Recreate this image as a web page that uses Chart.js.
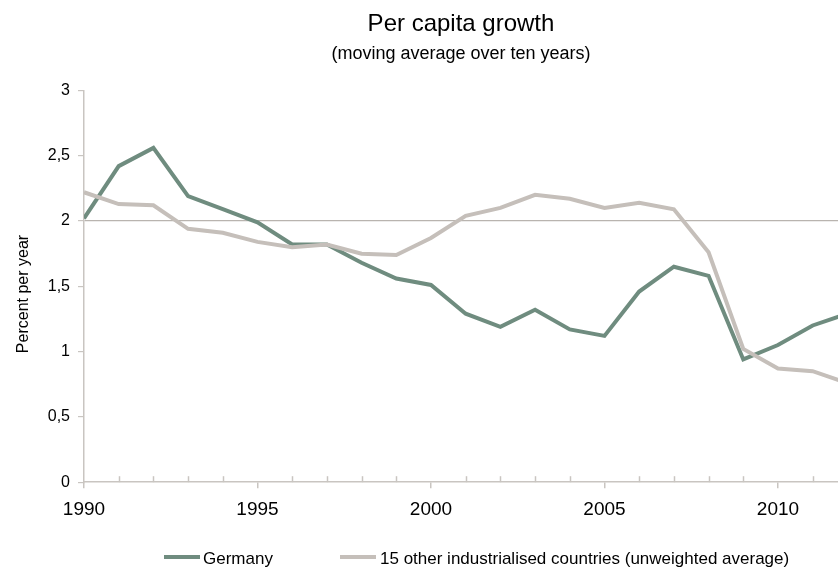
<!DOCTYPE html>
<html>
<head>
<meta charset="utf-8">
<script src="https://cdn.jsdelivr.net/npm/chart.js@4.4.1/dist/chart.umd.min.js"></script>
<style>
  html, body { margin: 0; padding: 0; background: #fff; }
  #wrap { position: relative; width: 838px; height: 567px; overflow: hidden; }
  #legend { position: absolute; left: 0; top: 549px; width: 838px; height: 20px;
            font: 17px "Liberation Sans", Arial, sans-serif; color: #000; }
  .item { position: absolute; top: 0; line-height: 20px; white-space: nowrap; }
  .swatch { display: inline-block; width: 36px; height: 4px; vertical-align: middle;
            position: relative; top: -3px; }
</style>
</head>
<body>
<div id="wrap">
  <canvas id="growth" width="838" height="567"></canvas>
  <div id="legend"></div>
</div>
<script>
const years = [1990, 1991, 1992, 1993, 1994, 1995, 1996, 1997, 1998, 1999, 2000, 2001,
               2002, 2003, 2004, 2005, 2006, 2007, 2008, 2009, 2010, 2011, 2012];
const germany = [2.02, 2.42, 2.56, 2.19, 2.09, 1.99, 1.82, 1.82, 1.68, 1.56, 1.51, 1.29,
                 1.19, 1.32, 1.17, 1.12, 1.46, 1.65, 1.58, 0.94, 1.05, 1.20, 1.29];
const others = [2.22, 2.13, 2.12, 1.94, 1.91, 1.84, 1.80, 1.82, 1.75, 1.74, 1.87, 2.04,
                2.10, 2.20, 2.17, 2.10, 2.14, 2.09, 1.76, 1.02, 0.87, 0.85, 0.76];
const seriesNames = ['Germany', '15 other industrialised countries (unweighted average)'];
const yTicks = [0, 0.5, 1, 1.5, 2, 2.5, 3];

const FONT = '"Liberation Sans", Arial, sans-serif';
const axisColor = '#c9c5c1';
const colors = ['#6f8c7f', '#c5bfba'];

// small upward ticks for the in-between years
const minorTicks = {
  id: 'minorTicks',
  beforeDatasetsDraw(chart) {
    const x = chart.scales.x, y = chart.scales.y;
    const ctx = chart.ctx;
    const base = y.getPixelForValue(0);
    ctx.save();
    ctx.strokeStyle = axisColor;
    ctx.lineWidth = 1.5;
    years.forEach(yr => {
      if (yr % 5 === 0 || yr > x.max) return;
      const px = Math.round(x.getPixelForValue(yr)) + 0.5;
      ctx.beginPath();
      ctx.moveTo(px, base);
      ctx.lineTo(px, base - 6);
      ctx.stroke();
    });
    ctx.restore();
  }
};

// y axis title, sitting a little below the middle as in the original
const yTitle = {
  id: 'yTitle',
  afterDraw(chart) {
    const ctx = chart.ctx;
    ctx.save();
    ctx.translate(24, 294);
    ctx.rotate(-Math.PI / 2);
    ctx.font = '16px ' + FONT;
    ctx.fillStyle = '#000';
    ctx.textAlign = 'center';
    ctx.textBaseline = 'middle';
    ctx.fillText('Percent per year', 0, 0);
    ctx.restore();
  }
};

new Chart(document.getElementById('growth'), {
  type: 'line',
  data: {
    datasets: [
      { label: seriesNames[0], data: years.map((yr, i) => ({ x: yr, y: germany[i] })),
        borderColor: colors[0], backgroundColor: colors[0], order: 1 },
      { label: seriesNames[1], data: years.map((yr, i) => ({ x: yr, y: others[i] })),
        borderColor: colors[1], backgroundColor: colors[1], order: 0 }
    ]
  },
  options: {
    responsive: false,
    animation: false,
    layout: { padding: { left: 0, right: 0, top: 0, bottom: 36 } },
    elements: {
      line: { borderWidth: 4, tension: 0 },
      point: { radius: 0 }
    },
    plugins: {
      legend: { display: false },
      tooltip: { enabled: false },
      title: {
        display: true, fullSize: false, text: 'Per capita growth', color: '#000',
        font: { family: FONT, size: 24, weight: 'normal' },
        padding: { top: 10, bottom: 0 }
      },
      subtitle: {
        display: true, fullSize: false, text: '(moving average over ten years)', color: '#000',
        font: { family: FONT, size: 18, weight: 'normal' },
        padding: { top: 4, bottom: 26 }
      }
    },
    scales: {
      x: {
        type: 'linear', min: 1990, max: 2011.73,
        afterFit: s => { s.paddingRight = 0; },
        grid: {
          drawOnChartArea: false, tickLength: 6, lineWidth: 1.5,
          tickColor: c => (c.tick && c.tick.value % 5 === 0) ? axisColor : 'rgba(0,0,0,0)'
        },
        border: { color: axisColor, width: 1.5 },
        ticks: {
          stepSize: 1, autoSkip: false, maxRotation: 0, padding: 10, color: '#000',
          font: { family: FONT, size: 19 },
          callback: v => (v % 5 === 0 ? String(v) : '')
        }
      },
      y: {
        min: 0, max: 3,
        afterFit: s => { s.width = 84; },
        afterBuildTicks: s => { s.ticks = yTicks.map(v => ({ value: v })); },
        grid: {
          color: c => (c.tick && c.tick.value === 2) ? '#b9b4af' : 'rgba(0,0,0,0)',
          tickColor: axisColor, tickLength: 6, lineWidth: 1.2
        },
        border: { color: axisColor, width: 1.5 },
        ticks: {
          padding: 8, color: '#000', font: { family: FONT, size: 16 },
          callback: v => String(v).replace('.', ',')
        }
      }
    }
  },
  plugins: [minorTicks, yTitle]
});

// legend laid out like the original
const legendPos = [[164, 203], [340, 380]];
const legend = document.getElementById('legend');
seriesNames.forEach((name, i) => {
  const item = document.createElement('span');
  item.className = 'item';
  item.style.left = legendPos[i][0] + 'px';
  const sw = document.createElement('span');
  sw.className = 'swatch';
  sw.style.background = colors[i];
  sw.style.marginRight = (legendPos[i][1] - legendPos[i][0] - 36) + 'px';
  item.appendChild(sw);
  item.appendChild(document.createTextNode(name));
  legend.appendChild(item);
});
</script>
</body>
</html>
